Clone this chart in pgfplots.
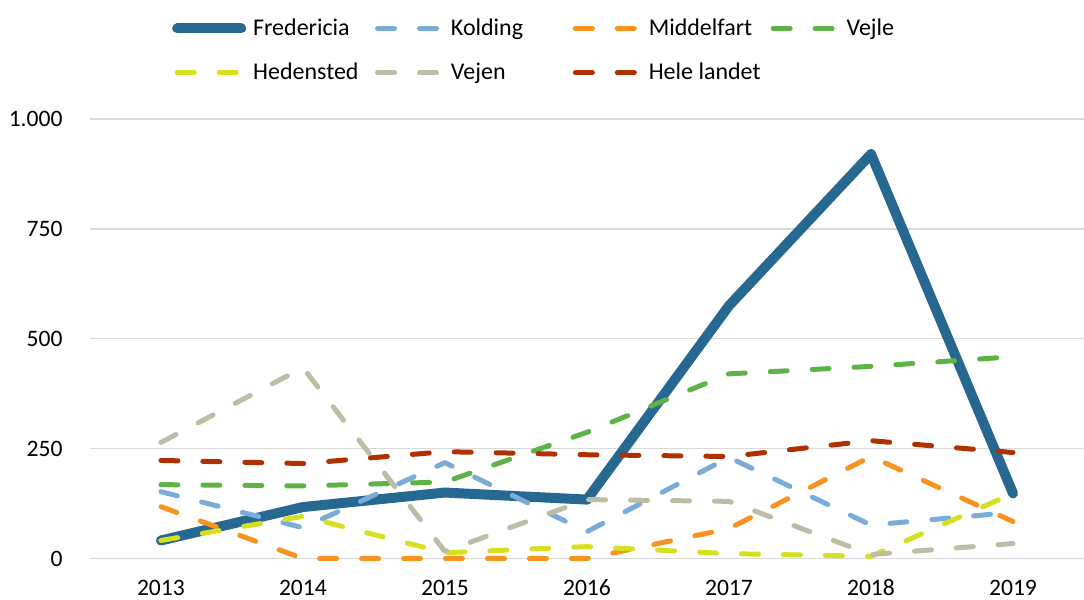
\documentclass[border=0pt]{standalone}
\usepackage{pgfplots}
\pgfplotsset{compat=1.18}
\usepackage{fontspec}
\setmainfont{Carlito}
\definecolor{cFred}{RGB}{38,104,143}
\definecolor{cKold}{RGB}{122,172,216}
\definecolor{cMidd}{RGB}{247,147,30}
\definecolor{cVejle}{RGB}{94,178,70}
\definecolor{cHed}{RGB}{215,223,33}
\definecolor{cVejen}{RGB}{189,188,164}
\definecolor{cHele}{RGB}{175,48,0}
\definecolor{cGrid}{RGB}{217,217,217}
\newcommand{\legtxt}[1]{\makebox[60.5pt][l]{\hspace*{1.5pt}#1}}
\begin{document}
\fontsize{11.8}{14}\selectfont
\begin{tikzpicture}
\useasboundingbox (-45pt,-20.5pt) rectangle (497.5pt,279.5pt);
\begin{axis}[
  at={(0,0)}, anchor=south west,
  scale only axis, width=497.5pt, height=220pt,
  xmin=2012.5, xmax=2019.5, ymin=0, ymax=1000,
  xtick={2013,2014,2015,2016,2017,2018,2019},
  xticklabels={2013,2014,2015,2016,2017,2018,2019},
  ytick={0,250,500,750,1000},
  yticklabels={0,250,500,750,1.000},
  major tick length=0pt,
  axis line style={draw=none},
  axis x line*=bottom,
  ymajorgrids, grid style={cGrid, line width=0.75pt},
  ticklabel style={font=\fontsize{11.8}{14}\selectfont},
  yticklabel style={inner xsep=0pt, xshift=-13.5pt},
  xticklabel style={inner ysep=0pt, yshift=-10.5pt},
  /pgf/number format/assume math mode=true,
  clip=false,
  legend columns=4,
  legend image code/.code={\draw[#1] (0pt,0pt) -- (32pt,0pt);},
  legend style={draw=none, fill=none, inner sep=0pt, at={(0,1)}, anchor=north west,
    xshift=41pt, yshift=51.5pt, column sep=0pt, row sep=10pt,
    nodes={inner xsep=2pt, inner ysep=1pt, anchor=west},
    font=\fontsize{12}{14}\selectfont},
  every axis plot/.append style={line cap=round, line join=round},
  dsh/.style={line width=2.5pt, dash pattern=on 8.5pt off 12.5pt},
]
\addplot[cFred, line width=5pt] coordinates {(2013,41) (2014,117) (2015,150) (2016,134) (2017,575) (2018,920) (2019,148)};
\addlegendentry{\legtxt{Fredericia}}
\addplot[cKold, dsh] coordinates {(2013,152) (2014,70) (2015,218) (2016,61) (2017,230) (2018,76) (2019,105)};
\addlegendentry{\legtxt{Kolding}}
\addplot[cMidd, dsh] coordinates {(2013,118) (2014,0) (2015,0) (2016,0) (2017,68) (2018,232) (2019,84)};
\addlegendentry{\legtxt{Middelfart}}
\addplot[cVejle, dsh] coordinates {(2013,168) (2014,165) (2015,174) (2016,287) (2017,420) (2018,437) (2019,459)};
\addlegendentry{\legtxt{Vejle}}
\addplot[cHed, dsh] coordinates {(2013,41) (2014,96) (2015,13) (2016,27) (2017,11) (2018,5) (2019,148)};
\addlegendentry{\legtxt{Hedensted}}
\addplot[cVejen, dsh] coordinates {(2013,264) (2014,434) (2015,16) (2016,134) (2017,130) (2018,9) (2019,34)};
\addlegendentry{\legtxt{Vejen}}
\addplot[cHele, dsh] coordinates {(2013,223) (2014,216) (2015,243) (2016,236) (2017,232) (2018,268) (2019,241)};
\addlegendentry{\legtxt{Hele landet}}
\end{axis}
\end{tikzpicture}
\end{document}
